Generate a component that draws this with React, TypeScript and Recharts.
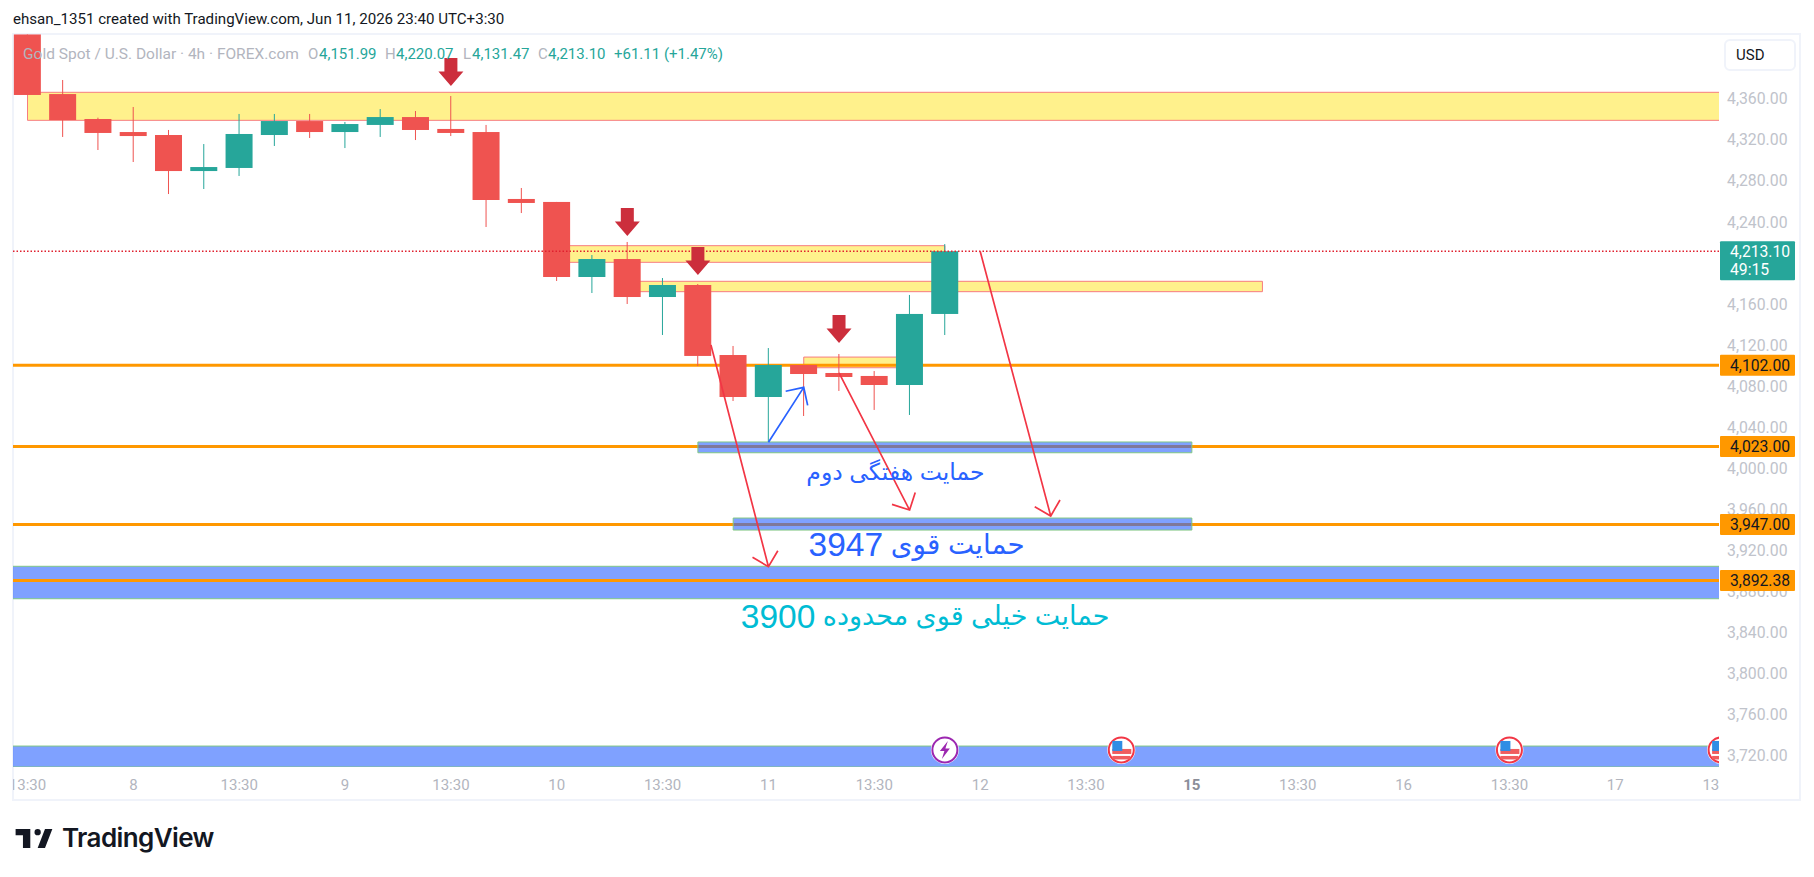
import { Bar, ComposedChart, ReferenceArea, ReferenceDot, ReferenceLine, XAxis, YAxis } from 'recharts';

// candles
const opens = [4424.4, 4366.2, 4341.9, 4329.2, 4326.3, 4291.2, 4294.2, 4326.3, 4339.9, 4329.2, 4336.1, 4343.8, 4332.2, 4329.2, 4264, 4261.1, 4188, 4205.5, 4168.5, 4180.2, 4112, 4071.1, 4102.3, 4094.5, 4091.6, 4082.8, 4151.99];
const closes = [4365.3, 4340.9, 4328.3, 4325.3, 4291.2, 4295.1, 4327.3, 4339.9, 4329.2, 4337, 4343.8, 4331.2, 4328.3, 4263, 4260.1, 4188, 4205.5, 4168.5, 4180.2, 4111.1, 4071.1, 4102.3, 4093.5, 4090.6, 4082.8, 4152, 4213.1];
const highs = [4424.4, 4379.9, 4343.2, 4353.6, 4331.2, 4317.5, 4346.8, 4346.8, 4346.8, 4339, 4351.6, 4349.7, 4364.3, 4336.1, 4274.7, 4261.1, 4209.4, 4222.1, 4187, 4181.2, 4120.8, 4118.8, 4102.3, 4113, 4096.4, 4170.5, 4220.07];
const lows = [4365.3, 4324.4, 4311.7, 4300, 4268.8, 4273.7, 4286.4, 4315.6, 4323.4, 4313.6, 4324.4, 4321.4, 4325.3, 4236.7, 4250.3, 4184.1, 4172.4, 4161.7, 4131.5, 4101.3, 4067.2, 4027.3, 4052.6, 4077, 4058.5, 4053.6, 4131.47];

const timeTicks = [0, 3, 6, 9, 12, 15, 18, 21, 24, 27, 30, 33, 36, 39, 42, 45, 48];
const timeLabels = ['13:30', '8', '13:30', '9', '13:30', '10', '13:30', '11', '13:30', '12', '13:30', '15', '13:30', '16', '13:30', '17', '13:30'];
const priceTicks = [4360, 4320, 4280, 4240, 4160, 4120, 4080, 4040, 4000, 3960, 3920, 3880, 3840, 3800, 3760, 3720];

// [x1, x2, top, bottom]
const yellowZones = [
  [0, 48, 4367.9, 4340.6],
  [15, 26, 4218.5, 4202.3],
  [17, 35, 4183.8, 4173.7],
  [22, 25, 4110, 4099.6],
];
const blueZones = [
  [19, 33, 4027.3, 4016.8],
  [20, 33, 3953.2, 3941.5],
  [-1, 48, 3906.2, 3874.6],
  [-1, 48, 3731.1, 3710.7],
];
const backLevels = [4102, 4023, 3947];
const frontLevels = [3892.38];
const lastPrice = 4213.1;

// [x1, price1, x2, price2]
const redArrows = [
  [19.37, 4121.7, 21, 3905.8],
  [23, 4094.5, 25, 3961],
  [27, 4213.1, 29, 3955.2],
];
const blueArrows = [[21, 4027, 22, 4080.5]];

const dropMarks = [
  [12, 4374],
  [17, 4227.9],
  [19, 4190],
  [23, 4123.7],
];
const eventPrice = 3727.3;
const boltEvents = [26];
const flagEvents = [31, 42, 48];

const notes = [
  { words: 'حمایت هفتگی دوم', digits: '', at: 24.6, price: 3998, size: 23.5, digitSize: 0, color: '#2962ff' },
  { words: 'حمایت قوی ', digits: '3947', at: 25.2, price: 3928, size: 27.8, digitSize: 33.5, color: '#2962ff' },
  { words: 'حمایت خیلی قوی محدوده ', digits: '3900', at: 25.44, price: 3858, size: 27, digitSize: 33.5, color: '#00bcd4' },
];

const data = opens.map((open, i) => ({
  i,
  open,
  close: closes[i],
  range: [lows[i], highs[i]],
}));

const FONT = 'Roboto, sans-serif';
const UP = '#26a69a';
const DOWN = '#ef5350';
const ORANGE = '#ff9800';
const PLOT_RIGHT = 1719;

const Candle = (props: any) => {
  const { x, y, width, height, payload } = props;
  const [low, high] = payload.range;
  const top = Math.min(y, y + height);
  const h = Math.abs(height);
  const perUnit = h / (high - low);
  const bodyTop = top + (high - Math.max(payload.open, payload.close)) * perUnit;
  const bodyH = Math.abs(payload.open - payload.close) * perUnit;
  const color = payload.close >= payload.open ? UP : DOWN;
  const mid = x + width / 2;
  return (
    <g>
      <line x1={mid} x2={mid} y1={top} y2={top + h} stroke={color} strokeWidth={1} />
      <rect x={x} y={bodyTop} width={width} height={bodyH} fill={color} />
    </g>
  );
};

const arrowShape = (color: string) => (props: any) => {
  const { x1, y1, x2, y2 } = props;
  const back = Math.atan2(y1 - y2, x1 - x2);
  const len = 18.5;
  const a = back + Math.PI / 4;
  const b = back - Math.PI / 4;
  return (
    <path
      d={`M${x1} ${y1}L${x2} ${y2}M${x2 + len * Math.cos(a)} ${y2 + len * Math.sin(a)}L${x2} ${y2}L${x2 + len * Math.cos(b)} ${y2 + len * Math.sin(b)}`}
      fill="none"
      stroke={color}
      strokeWidth={1.7}
    />
  );
};

const DropMark = (props: any) => {
  const { cx, cy } = props;
  return <path d={`M${cx - 6.5} ${cy - 28}h13v13.5h6L${cx} ${cy}l-12.5 -14.5h6z`} fill="#cc2e3c" />;
};

const Note = ({ cx, cy, note }: any) => (
  <text
    x={cx}
    y={cy}
    fill={note.color}
    fontSize={note.size}
    fontFamily="'Liberation Sans', 'DejaVu Sans', sans-serif"
    textAnchor="middle"
    dominantBaseline="central"
    direction="rtl"
  >
    <tspan>{note.words}</tspan>
    {note.digits ? <tspan fontSize={note.digitSize}>{note.digits}</tspan> : null}
  </text>
);

const Bolt = ({ cx, cy }: any) => (
  <g>
    <circle cx={cx} cy={cy} r={14} fill="#fff" />
    <circle cx={cx} cy={cy} r={12.5} fill="#fff" stroke="#9c27b0" strokeWidth={2} />
    <path d={`M${cx + 3} ${cy - 9}l-8 10h4.5l-2.5 8l8 -10.5h-4.5z`} fill="#9c27b0" />
  </g>
);

const Flag = ({ cx, cy }: any) => (
  <g clipPath="url(#plotClip)">
    <circle cx={cx} cy={cy} r={14} fill="#fff" />
    <circle cx={cx} cy={cy} r={12.5} fill="#fff" stroke="#f23645" strokeWidth={2} />
    <rect x={cx - 9} y={cy - 1} width={19} height={5} fill="#f05d5e" />
    <rect x={cx - 9} y={cy + 6} width={18} height={3.5} fill="#f05d5e" />
    <rect x={cx - 9} y={cy - 9} width={10} height={10} fill="#2f8de4" />
  </g>
);

const priceText = (value: number) =>
  value.toLocaleString('en-US', { minimumFractionDigits: 2, maximumFractionDigits: 2 });

const PriceTick = ({ x, y, payload }: any) => (
  <text x={x} y={y - 1.6} textAnchor="start" dominantBaseline="central" fontFamily={FONT} fontSize={15.8} fill="#c0c3cb">
    {priceText(payload.value)}
  </text>
);

// second axis, same scale, so the tags sit on top of the price labels
const TagTick = ({ y, payload }: any) => {
  const x = PLOT_RIGHT;
  if (payload.value === lastPrice) {
    return (
      <g>
        <rect x={x + 1} y={y - 10} width={75} height={39} fill={UP} rx={1} />
        <text x={x + 11} y={y} dominantBaseline="central" fontFamily={FONT} fontSize={15.7} fill="#fff">
          {priceText(lastPrice)}
        </text>
        <text x={x + 11} y={y + 18} dominantBaseline="central" fontFamily={FONT} fontSize={15.7} fill="#fff">
          49:15
        </text>
      </g>
    );
  }
  return (
    <g>
      <rect x={x + 1} y={y - 10.5} width={75} height={21} fill={ORANGE} rx={1} />
      <text x={x + 11} y={y} dominantBaseline="central" fontFamily={FONT} fontSize={15.7} fill="#131722">
        {priceText(payload.value)}
      </text>
    </g>
  );
};

const TimeTick = (props: any) => {
  const { x, y, payload } = props;
  const label = timeLabels[timeTicks.indexOf(payload.value)];
  const strong = label === '15';
  return (
    <text
      x={x}
      y={y}
      clipPath="url(#timeClip)"
      textAnchor="middle"
      dominantBaseline="central"
      fontFamily={FONT}
      fontSize={15}
      fontWeight={strong ? 700 : 400}
      fill={strong ? '#8b8e99' : '#b2b5be'}
    >
      {label}
    </text>
  );
};

const abs = (left: number, top: number, extra: any = {}) => ({
  position: 'absolute' as const,
  left,
  top,
  whiteSpace: 'nowrap' as const,
  fontFamily: FONT,
  lineHeight: 1,
  ...extra,
});

const GRAY = '#b2b5be';
const legend = [
  { left: 23, text: 'Gold Spot / U.S. Dollar · 4h · FOREX.com', color: GRAY, size: 15.5 },
  { left: 308, text: 'O', color: GRAY, size: 15 },
  { left: 319, text: '4,151.99', color: UP, size: 15 },
  { left: 385, text: 'H', color: GRAY, size: 15 },
  { left: 396, text: '4,220.07', color: UP, size: 15 },
  { left: 463, text: 'L', color: GRAY, size: 15 },
  { left: 472, text: '4,131.47', color: UP, size: 15 },
  { left: 538, text: 'C', color: GRAY, size: 15 },
  { left: 548, text: '4,213.10', color: UP, size: 15 },
  { left: 614, text: '+61.11 (+1.47%)', color: UP, size: 15 },
];

export default function App() {
  return (
    <div style={{ position: 'absolute', left: 0, top: 0, width: 1814, height: 877, background: '#fff', overflow: 'hidden' }}>
      <div style={{ position: 'absolute', left: 12, top: 33, width: 1789, height: 768, border: '2px solid #f0f3fa', boxSizing: 'border-box' }} />
      <ComposedChart
        width={1814}
        height={877}
        data={data}
        margin={{ top: 34.3, right: 0, bottom: 75, left: 13 }}
        style={{ position: 'absolute', left: 0, top: 0 }}
      >
        <defs>
          <clipPath id="plotClip">
            <rect x={13} y={34} width={1706} height={733} />
          </clipPath>
          <clipPath id="timeClip">
            <rect x={13} y={767} width={1706} height={34} />
          </clipPath>
        </defs>
        <XAxis
          dataKey="i"
          type="number"
          domain={[-0.411, 47.94]}
          allowDataOverflow
          ticks={timeTicks}
          interval={0}
          height={35}
          axisLine={false}
          tickLine={false}
          tick={TimeTick}
          tickMargin={12}
        />
        <YAxis
          orientation="right"
          domain={[3710.7, 4424.4]}
          allowDataOverflow
          ticks={priceTicks}
          interval={0}
          width={95}
          axisLine={false}
          tickLine={false}
          tickMargin={2}
          tick={PriceTick}
        />
        <YAxis
          yAxisId="tags"
          orientation="right"
          mirror
          domain={[3710.7, 4424.4]}
          allowDataOverflow
          ticks={[...backLevels, ...frontLevels, lastPrice]}
          interval={0}
          axisLine={false}
          tickLine={false}
          tick={TagTick}
        />
        {yellowZones.map(([x1, x2, y1, y2], n) => (
          <ReferenceArea key={`y${n}`} x1={x1} x2={x2} y1={y1} y2={y2} fill="#fff18c" fillOpacity={1} stroke="#f77c80" strokeWidth={1} ifOverflow="hidden" zIndex={100} />
        ))}
        {backLevels.map((v) => (
          <ReferenceLine key={`l${v}`} y={v} stroke={ORANGE} strokeWidth={3} zIndex={200} />
        ))}
        <Bar dataKey="range" barSize={27} shape={Candle} isAnimationActive={false} zIndex={300} />
        {blueZones.map(([x1, x2, y1, y2], n) => (
          <ReferenceArea key={`b${n}`} x1={x1} x2={x2} y1={y1} y2={y2} fill="#2962ff" fillOpacity={0.6} stroke="#81c784" strokeWidth={1} ifOverflow="hidden" zIndex={350} />
        ))}
        {frontLevels.map((v) => (
          <ReferenceLine key={`f${v}`} y={v} stroke={ORANGE} strokeWidth={3} zIndex={360} />
        ))}
        <ReferenceLine y={lastPrice} stroke="#e0202f" strokeWidth={1.5} strokeDasharray="1.5 2" zIndex={370} />
        {redArrows.map(([x1, y1, x2, y2], n) => (
          <ReferenceLine key={`ra${n}`} segment={[{ x: x1, y: y1 }, { x: x2, y: y2 }]} shape={arrowShape('#f23645')} zIndex={400} />
        ))}
        {blueArrows.map(([x1, y1, x2, y2], n) => (
          <ReferenceLine key={`ba${n}`} segment={[{ x: x1, y: y1 }, { x: x2, y: y2 }]} shape={arrowShape('#2962ff')} zIndex={400} />
        ))}
        {dropMarks.map(([x, y]) => (
          <ReferenceDot key={`d${x}`} x={x} y={y} r={1} shape={DropMark} zIndex={410} />
        ))}
        {notes.map((note) => (
          <ReferenceDot key={note.words} x={note.at} y={note.price} r={1} shape={(p: any) => <Note {...p} note={note} />} zIndex={420} />
        ))}
        {boltEvents.map((x) => (
          <ReferenceDot key={`e${x}`} x={x} y={eventPrice} r={1} shape={Bolt} zIndex={430} />
        ))}
        {flagEvents.map((x) => (
          <ReferenceDot key={`g${x}`} x={x} y={eventPrice} r={1} shape={Flag} ifOverflow="visible" zIndex={430} />
        ))}
      </ComposedChart>
      <div style={abs(13, 12, { fontSize: 15.1, color: '#131722' })}>ehsan_1351 created with TradingView.com, Jun 11, 2026 23:40 UTC+3:30</div>
      {legend.map((item) => (
        <div key={item.left} style={abs(item.left, 47, { fontSize: item.size, color: item.color })}>
          {item.text}
        </div>
      ))}
      <div style={{ ...abs(1724, 39, { fontSize: 15, color: '#131722' }), width: 72, height: 32, border: '2px solid #f0f3fa', borderRadius: 6, boxSizing: 'border-box', paddingLeft: 10, paddingTop: 7 }}>USD</div>
      <svg style={{ position: 'absolute', left: 15, top: 828 }} width={39} height={21} viewBox="0 0 36 20">
        <path d="M14 1H0v6h7v12h7zM28 19h-7l7 -18h7zM21 7a3 3 0 1 0 0 -6 3 3 0 0 0 0 6z" fill="#131722" />
      </svg>
      <div style={abs(62, 825, { fontSize: 26, fontWeight: 600, fontFamily: 'Inter, sans-serif', color: '#131722', letterSpacing: -0.6 })}>TradingView</div>
    </div>
  );
}
